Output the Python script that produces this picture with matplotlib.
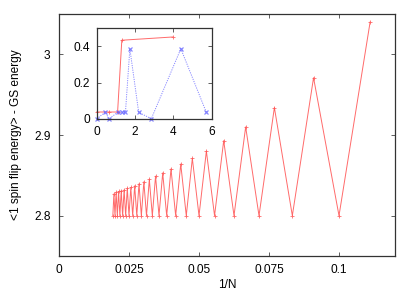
import matplotlib
matplotlib.use('Agg')
import matplotlib.pyplot as plt

plt.rcParams['font.family'] = ['Liberation Sans', 'DejaVu Sans']
plt.rcParams['font.size'] = 8.6

# main panel: system size N and the excitation energy
N = [9, 10, 11, 12, 13, 14, 15, 16, 17, 18, 19, 20, 21, 22, 23, 24, 25, 26,
     27, 28, 29, 30, 31, 32, 33, 34, 35, 36, 37, 38, 39, 40, 41, 42, 43, 44,
     45, 46, 47, 48, 49, 50, 51, 52]
energy = [3.040, 2.8, 2.971, 2.8, 2.934, 2.8, 2.910, 2.8, 2.893, 2.8,
          2.880, 2.8, 2.871, 2.8, 2.864, 2.8, 2.858, 2.8, 2.853, 2.8,
          2.849, 2.8, 2.845, 2.8, 2.842, 2.8, 2.8395, 2.8, 2.837, 2.8,
          2.835, 2.8, 2.834, 2.8, 2.832, 2.8, 2.831, 2.8, 2.830, 2.8,
          2.829, 2.8, 2.827, 2.8]
inv_N = [1.0 / n for n in N]

# inset curves
red_x = [0.0, 0.63, 1.09, 1.31, 3.97]
red_y = [0.037, 0.037, 0.037, 0.434, 0.452]
blue_x = [0.0, 0.44, 0.65, 1.09, 1.31, 1.50, 1.73, 2.19, 2.85, 4.39, 5.72]
blue_y = [0.0, 0.035, 0.0, 0.035, 0.035, 0.035, 0.387, 0.035, 0.0, 0.387, 0.035]

main_xticks = [0, 0.025, 0.05, 0.075, 0.1]
main_xlabels = ['0', '0.025', '0.05', '0.075', '0.1']
main_yticks = [2.8, 2.9, 3.0]
main_ylabels = ['2.8', '2.9', '3']
inset_xticks = [0, 2, 4, 6]
inset_yticks = [0, 0.2, 0.4]
inset_ylabels = ['0', '0.2', '0.4']

red = '#ff5050'
blue = '#6060ff'

fig = plt.figure(figsize=(4.15, 2.91), dpi=100)
ax = fig.add_axes([59 / 415, 35 / 291, 336 / 415, 242 / 291])

ax.plot(inv_N, energy, color=red, lw=0.7, alpha=0.85,
        marker='+', ms=3.5, mew=0.6)
ax.set_xlim(0, 0.12)
ax.set_ylim(2.75, 3.05)
ax.set_xticks(main_xticks)
ax.set_xticklabels(main_xlabels)
ax.set_yticks(main_yticks)
ax.set_yticklabels(main_ylabels)
ax.tick_params(direction='in', top=True, right=True, length=3, width=0.6,
               pad=6, color='#444444')
for s in ax.spines.values():
    s.set_linewidth(0.9)
    s.set_color('#333333')
ax.set_xlabel('1/N', labelpad=2)
ax.set_ylabel('<1 spin flip energy> - GS energy', labelpad=9)

ins = fig.add_axes([96.7 / 415, (291 - 118.7) / 291, 115 / 415, 90.4 / 291])
ins.plot(red_x, red_y, color=red, lw=0.7, alpha=0.85,
         marker='+', ms=3.5, mew=0.6, clip_on=False)
ins.plot(blue_x, blue_y, color=blue, lw=0.7, ls=(0, (1.2, 1.2)), alpha=0.75,
         marker='x', ms=2.8, mew=0.9, clip_on=False)
ins.set_xlim(0, 6)
ins.set_ylim(0, 0.5)
ins.set_xticks(inset_xticks)
ins.set_yticks(inset_yticks)
ins.set_yticklabels(inset_ylabels)
ins.tick_params(direction='in', top=True, right=True, length=3, width=0.6,
                pad=5, color='#444444')
for s in ins.spines.values():
    s.set_linewidth(0.9)
    s.set_color('#333333')

fig.savefig('out.png', dpi=100)
